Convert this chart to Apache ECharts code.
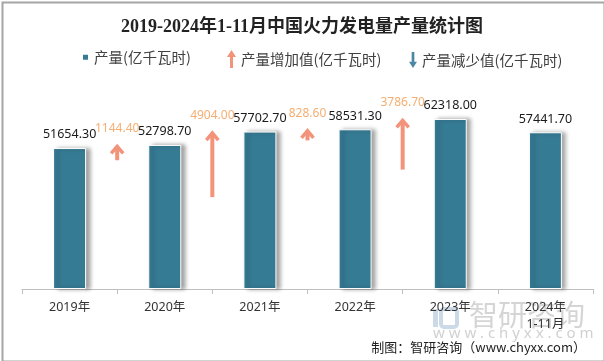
<!DOCTYPE html>
<html>
<head>
<meta charset="utf-8">
<script src="https://cdn.jsdelivr.net/npm/echarts@6/dist/echarts.min.js"></script>
<style>
html,body{margin:0;padding:0;background:#fff;}
#chart{width:604px;height:361px;}
</style>
</head>
<body>
<div id="chart"></div>
<script>
// ---- data ----
var categories = ['2019年', '2020年', '2021年', '2022年', '2023年', '2024年\n1-11月'];
var production = [51654.3, 52798.7, 57702.7, 58531.3, 62318.0, 57441.7];
var increase = [1144.4, 4904.0, 828.6, 3786.7];   // arrows between consecutive years
var decrease = [];                                 // no decrease arrows drawn

var NAME_PROD = '产量(亿千瓦时)';
var NAME_UP = '产量增加值(亿千瓦时)';
var NAME_DOWN = '产量减少值(亿千瓦时)';
var BAR_COLOR = '#367B94';
var UP_COLOR = '#F2937A';
var DOWN_COLOR = '#4B87A5';
var UP_LABEL = '#F5AE72';
var ARROW_SCALE = 4.9;
var CJK = '"Noto Sans CJK SC"';
var SANS = '"Noto Sans", "Noto Sans CJK SC"';

var arrowData = increase.map(function (d, i) { return [i, production[i + 1], d]; });

var upPath = 'path://M4.5,0 L9,7 L6,7 L6,18 L3,18 L3,7 L0,7 Z';
var downPath = 'path://M4.5,18 L9,11 L6,11 L6,0 L3,0 L3,11 L0,11 Z';

var chart = echarts.init(document.getElementById('chart'), null, {renderer: 'canvas'});
var legendText = {fontSize: 14.5, color: '#404040', fontFamily: CJK};
chart.setOption({
  backgroundColor: '#fff',
  animation: false,
  title: {
    text: '2019-2024年1-11月中国火力发电量产量统计图',
    left: 'center', top: 13,
    textStyle: {fontSize: 18, fontWeight: 'bold', color: '#222', fontFamily: '"Liberation Serif", "Noto Sans CJK SC"'}
  },
  legend: [
    {left: 81, top: 50, padding: 0, itemWidth: 7, itemHeight: 7, selectedMode: false,
     data: [{name: NAME_PROD, icon: 'rect', itemStyle: {color: BAR_COLOR}}], textStyle: legendText},
    {left: 227, top: 50, padding: 0, itemWidth: 9, itemHeight: 18, selectedMode: false,
     data: [{name: NAME_UP, icon: upPath, itemStyle: {color: UP_COLOR}}], textStyle: legendText},
    {left: 409, top: 52, padding: 0, itemWidth: 8, itemHeight: 18, selectedMode: false,
     data: [{name: NAME_DOWN, icon: downPath, itemStyle: {color: DOWN_COLOR}}], textStyle: legendText}
  ],
  grid: {left: 22, right: 11, top: 98, bottom: 72},
  xAxis: {
    type: 'category', data: categories, boundaryGap: true,
    axisLine: {lineStyle: {color: '#BFBFBF', width: 1}},
    axisTick: {show: true, length: 5, lineStyle: {color: '#BFBFBF'}},
    axisLabel: {color: '#333', fontSize: 12.5, margin: 10, lineHeight: 17, fontFamily: SANS, interval: 0}
  },
  yAxis: {type: 'value', min: 0, max: 70000, show: false, splitLine: {show: false}},
  series: [
    {
      name: NAME_PROD, type: 'bar', data: production, barWidth: 33, z: 2,
      itemStyle: {color: BAR_COLOR, borderColor: '#fff', borderWidth: 1,
        shadowColor: 'rgba(0,0,0,0.35)', shadowBlur: 4, shadowOffsetX: 4, shadowOffsetY: 0},
      label: {show: true, position: 'top', distance: 7, color: '#1a1a1a', fontSize: 12.5, fontFamily: SANS,
        formatter: function (p) { return p.value.toFixed(2); }}
    },
    {
      name: NAME_UP, type: 'custom', data: arrowData, z: 5,
      itemStyle: {color: UP_COLOR},
      encode: {x: 0, y: 1},
      renderItem: function (params, api) {
        var i = api.value(0);
        var c = api.coord([i, api.value(1)]);
        var band = api.size([1, 0])[0];
        var x = c[0] + band / 2;
        var tip = c[1];
        var delta = api.value(2);
        var tail = tip + api.size([0, delta])[1] * ARROW_SCALE;
        return {
          type: 'group',
          children: [
            {type: 'line', shape: {x1: x, y1: tip + 3, x2: x, y2: tail},
             style: {stroke: UP_COLOR, lineWidth: 4}},
            {type: 'polyline', shape: {points: [[x - 6, tip + 8.5], [x, tip + 1.5], [x + 6, tip + 8.5]]},
             style: {stroke: UP_COLOR, lineWidth: 3.5, fill: null, lineJoin: 'miter'}},
            {type: 'text', style: {text: delta.toFixed(2), x: x, y: tip - 16, align: 'center', verticalAlign: 'middle',
             fill: UP_LABEL, fontSize: 12, fontFamily: SANS}}
          ]
        };
      }
    },
    {
      name: NAME_DOWN, type: 'custom', data: decrease,
      itemStyle: {color: DOWN_COLOR},
      renderItem: function () { return null; }
    }
  ],
  graphic: [
    {type: 'rect', left: 0, top: 0, shape: {x: 1, y: 1, width: 602, height: 359},
     style: {fill: null, stroke: '#A6A6A6', lineWidth: 2}, z: 100},
    // watermark
    {type: 'group', z: 90, children: [
      {type: 'rect', shape: {x: 433, y: 309, width: 5, height: 18}, style: {fill: 'rgba(110,150,185,0.35)'}},
      {type: 'rect', shape: {x: 441, y: 309, width: 16, height: 18, r: 3}, style: {fill: null, stroke: 'rgba(110,150,185,0.35)', lineWidth: 4}},
      {type: 'text', style: {text: '智研咨询', x: 469, y: 315, verticalAlign: 'middle', fontSize: 29,
        fill: 'rgba(150,150,150,0.4)', fontFamily: CJK}},
      {type: 'text', style: {text: 'w w w . c h y x x . c o m', x: 433, y: 334, verticalAlign: 'middle', fontSize: 15,
        fill: 'rgba(150,150,150,0.45)', fontFamily: '"Noto Sans"'}}
    ]},
    {type: 'text', z: 95, style: {text: '制图：智研咨询（www.chyxx.com）', x: 586, y: 347, align: 'right', verticalAlign: 'middle',
      fontSize: 13, fill: '#222', fontFamily: CJK}}
  ]
});
</script>
</body>
</html>
